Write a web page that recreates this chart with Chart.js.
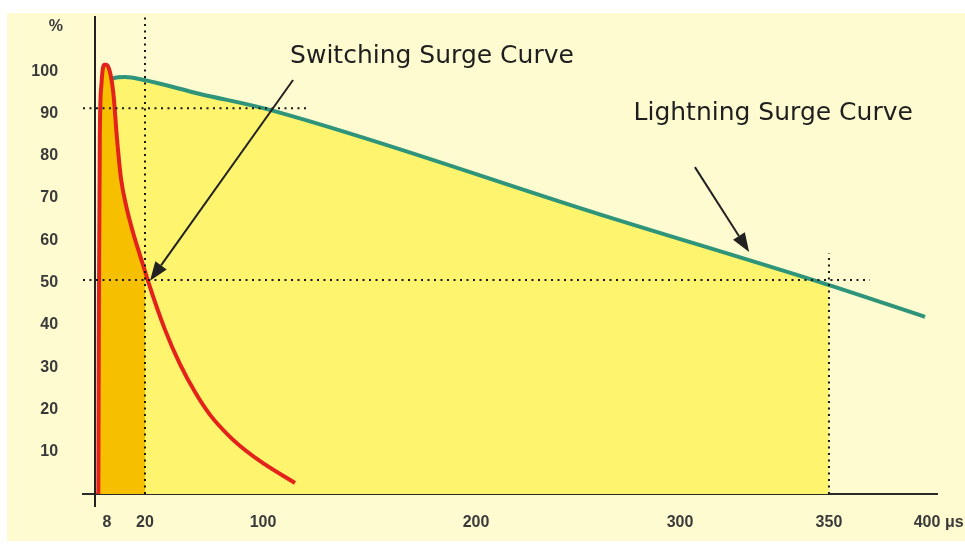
<!DOCTYPE html>
<html lang="en">
<head>
<meta charset="UTF-8">
<style>
    * { margin: 0; padding: 0; box-sizing: border-box; }
    body { background: #ffffff; }
    .chart-box { position: relative; width: 965px; height: 547px; }
</style>
</head>
<body>
<div class="chart-box"><canvas id="surgeChart"></canvas></div>

<script src="https://cdn.jsdelivr.net/npm/chart.js"></script>
<script>
// time in microseconds, level in % of peak
const switchingTime  = [2.2, 2.6, 3.2, 4.3, 6.0, 7.5, 9.9, 11.2, 12.4, 14.0, 16.2, 18.4, 20, 22.0, 33.6, 43.7, 53.9, 64.1, 77.6, 87.8, 100, 115];
const switchingLevel = [0, 45, 85, 97, 101.5, 101.5, 95.5, 83.7, 74.7, 68.3, 61.9, 56.5, 52.7, 50.4, 38.8, 30.7, 24.1, 18.7, 13.5, 10.4, 7.3, 2.6];

const lightningTime  = [4.0, 4.1, 9.9, 13.7, 19.7, 57.3, 101.9, 261.4, 350, 399];
const lightningLevel = [0, 32, 98.3, 98.6, 97.9, 94.6, 91.0, 66.0, 49.4, 41.9];

const xTickValues = [8, 20, 100, 200, 300, 350, 400];
const xTickLabels = ["8", "20", "100", "200", "300", "350", "400"];
const yTickValues = [10, 20, 30, 40, 50, 60, 70, 80, 90, 100];

// dotted guides: [x1, y1, x2, y2]
const guideSegments = [
    [-8, 91.2, 120.7, 91.2],
    [-8, 50.6, 370.9, 50.6],
    [20, 0, 20, 112.8],
    [350, 0, 350, 57.0]
];
// arrows: [fromX, fromY, tipX, tipY]
const arrowSegments = [
    [114.1, 97.9, 23.4, 50.4],
    [305.0, 77.3, 323.2, 57.2]
];
const curveNames = ["Switching Surge Curve", "Lightning Surge Curve"];
const curveNameAt = [[112.7, 101.9], [277.2, 88.4]];

// the time axis of the drawing is stretched by hand, so map it piecewise
const X_KNOTS = [-8, 0, 8, 20, 100, 200, 300, 350, 400, 405];
const X_STOPS = [0, 0.0141, 0.0281, 0.0726, 0.2108, 0.4602, 0.6991, 0.8735, 0.9883, 1];

function interp(v, from, to) {
    let i = 0;
    while (i < from.length - 2 && v > from[i + 1]) i++;
    const t = (v - from[i]) / (from[i + 1] - from[i]);
    return to[i] + t * (to[i + 1] - to[i]);
}

class StretchScale extends Chart.LinearScale {
    getPixelForValue(value) {
        return this.left + interp(value, X_KNOTS, X_STOPS) * this.width;
    }
    getValueForPixel(pixel) {
        return interp((pixel - this.left) / this.width, X_STOPS, X_KNOTS);
    }
}
StretchScale.id = 'stretch';
StretchScale.defaults = Chart.LinearScale.defaults;

// y axis sits at x = 0; push its labels off the axis line by the tick padding
class PaddedLinearScale extends Chart.LinearScale {
    _computeLabelItems(chartArea) {
        const items = super._computeLabelItems(chartArea);
        const pad = this.options.ticks.padding;
        items.forEach(it => {
            const tr = it.options.translation;
            it.options.translation = [tr[0] - pad, tr[1]];
        });
        return items;
    }
}
PaddedLinearScale.id = 'paddedLinear';
PaddedLinearScale.defaults = Chart.LinearScale.defaults;
Chart.register(StretchScale, PaddedLinearScale);

const points = (xs, ys) => xs.map((x, i) => ({ x: x, y: ys[i] }));
const switchingPts = points(switchingTime, switchingLevel);
const lightningPts = points(lightningTime, lightningLevel);

const guideSets = guideSegments.map(g => ({
    data: [{ x: g[0], y: g[1] }, { x: g[2], y: g[3] }],
    borderColor: "#161616",
    borderWidth: 2,
    borderDash: [2, 4.5],
    pointRadius: 0,
    fill: false,
    order: 0
}));

const tickFont = { family: "'Liberation Sans', Arial, sans-serif", size: 16, weight: 'bold' };

const decor = {
    id: 'decor',
    beforeDraw(chart) {
        const ctx = chart.ctx;
        ctx.save();
        ctx.fillStyle = "#fffbd0";
        ctx.fillRect(7, 13, 958, 528);
        ctx.restore();
    },
    afterDraw(chart) {
        const ctx = chart.ctx;
        const xs = chart.scales.x, ys = chart.scales.y;
        ctx.save();
        // arrows
        ctx.strokeStyle = "#222";
        ctx.fillStyle = "#222";
        ctx.lineWidth = 2;
        arrowSegments.forEach(a => {
            const x1 = xs.getPixelForValue(a[0]), y1 = ys.getPixelForValue(a[1]);
            const x2 = xs.getPixelForValue(a[2]), y2 = ys.getPixelForValue(a[3]);
            const ang = Math.atan2(y2 - y1, x2 - x1);
            const head = 19, half = 7;
            const bx = x2 - head * Math.cos(ang), by = y2 - head * Math.sin(ang);
            ctx.beginPath();
            ctx.moveTo(x1, y1);
            ctx.lineTo(bx, by);
            ctx.stroke();
            ctx.beginPath();
            ctx.moveTo(x2, y2);
            ctx.lineTo(bx + half * Math.sin(ang), by - half * Math.cos(ang));
            ctx.lineTo(bx - half * Math.sin(ang), by + half * Math.cos(ang));
            ctx.closePath();
            ctx.fill();
        });
        // curve names
        ctx.fillStyle = "#1e1e1e";
        ctx.font = "25px 'DejaVu Sans', Verdana, sans-serif";
        ctx.textAlign = "left";
        ctx.textBaseline = "alphabetic";
        curveNames.forEach((t, i) => {
            ctx.fillText(t, xs.getPixelForValue(curveNameAt[i][0]), ys.getPixelForValue(curveNameAt[i][1]));
        });
        // axis units
        ctx.fillStyle = "#3a3a3a";
        ctx.font = "bold 16px 'Liberation Sans', Arial, sans-serif";
        ctx.textBaseline = "middle";
        ctx.textAlign = "right";
        ctx.fillText("%", xs.getPixelForValue(0) - 32, 27);
        ctx.textAlign = "left";
        ctx.fillText("μs", xs.getPixelForValue(400) + 18, ys.getPixelForValue(0) + 29);
        ctx.restore();
    }
};

new Chart("surgeChart", {
    type: "line",
    data: {
        datasets: [
            ...guideSets,
            {
                label: "Switching Surge Curve",
                data: switchingPts,
                borderColor: "#e3221c",
                borderWidth: 4,
                pointRadius: 0,
                cubicInterpolationMode: 'monotone',
                fill: false,
                order: 1
            },
            {
                data: switchingPts.filter(p => p.x <= 20),
                borderWidth: 0,
                pointRadius: 0,
                cubicInterpolationMode: 'monotone',
                backgroundColor: "#f6bf00",
                fill: 'origin',
                order: 2
            },
            {
                label: "Lightning Surge Curve",
                data: lightningPts,
                borderColor: "#2e957a",
                borderWidth: 4,
                pointRadius: 0,
                cubicInterpolationMode: 'monotone',
                fill: false,
                order: 3
            },
            {
                data: lightningPts.filter(p => p.x <= 350),
                borderWidth: 0,
                pointRadius: 0,
                cubicInterpolationMode: 'monotone',
                backgroundColor: "#fff46e",
                fill: 'origin',
                order: 4
            }
        ]
    },
    options: {
        responsive: true,
        maintainAspectRatio: false,
        animation: false,
        layout: { padding: { left: 83, top: 17, right: 28, bottom: 41 } },
        plugins: {
            legend: { display: false },
            tooltip: { enabled: false }
        },
        scales: {
            x: {
                type: 'stretch',
                min: -8,
                max: 405,
                position: { y: 0 },
                z: 1,
                grid: { display: false, drawTicks: false },
                border: { display: true, color: "#2a2a2a", width: 2 },
                ticks: {
                    padding: 19,
                    maxRotation: 0,
                    autoSkip: false,
                    color: "#3a3a3a",
                    font: tickFont,
                    callback: (v, i) => xTickLabels[i]
                },
                afterBuildTicks: s => { s.ticks = xTickValues.map(v => ({ value: v })); },
                afterFit: s => { s.paddingLeft = 0; s.paddingRight = 0; s.paddingTop = 0; s.paddingBottom = 0; }
            },
            y: {
                type: 'paddedLinear',
                min: -2.85,
                max: 112.8,
                position: { x: 0 },
                z: 1,
                grid: { display: false, drawTicks: false },
                border: { display: true, color: "#222", width: 2 },
                ticks: {
                    padding: 37,
                    autoSkip: false,
                    color: "#3a3a3a",
                    font: tickFont,
                    callback: v => String(v)
                },
                afterBuildTicks: s => { s.ticks = yTickValues.map(v => ({ value: v })); },
                afterFit: s => { s.paddingLeft = 0; s.paddingRight = 0; s.paddingTop = 0; s.paddingBottom = 0; }
            }
        }
    },
    plugins: [decor]
});
</script>
</body>
</html>
